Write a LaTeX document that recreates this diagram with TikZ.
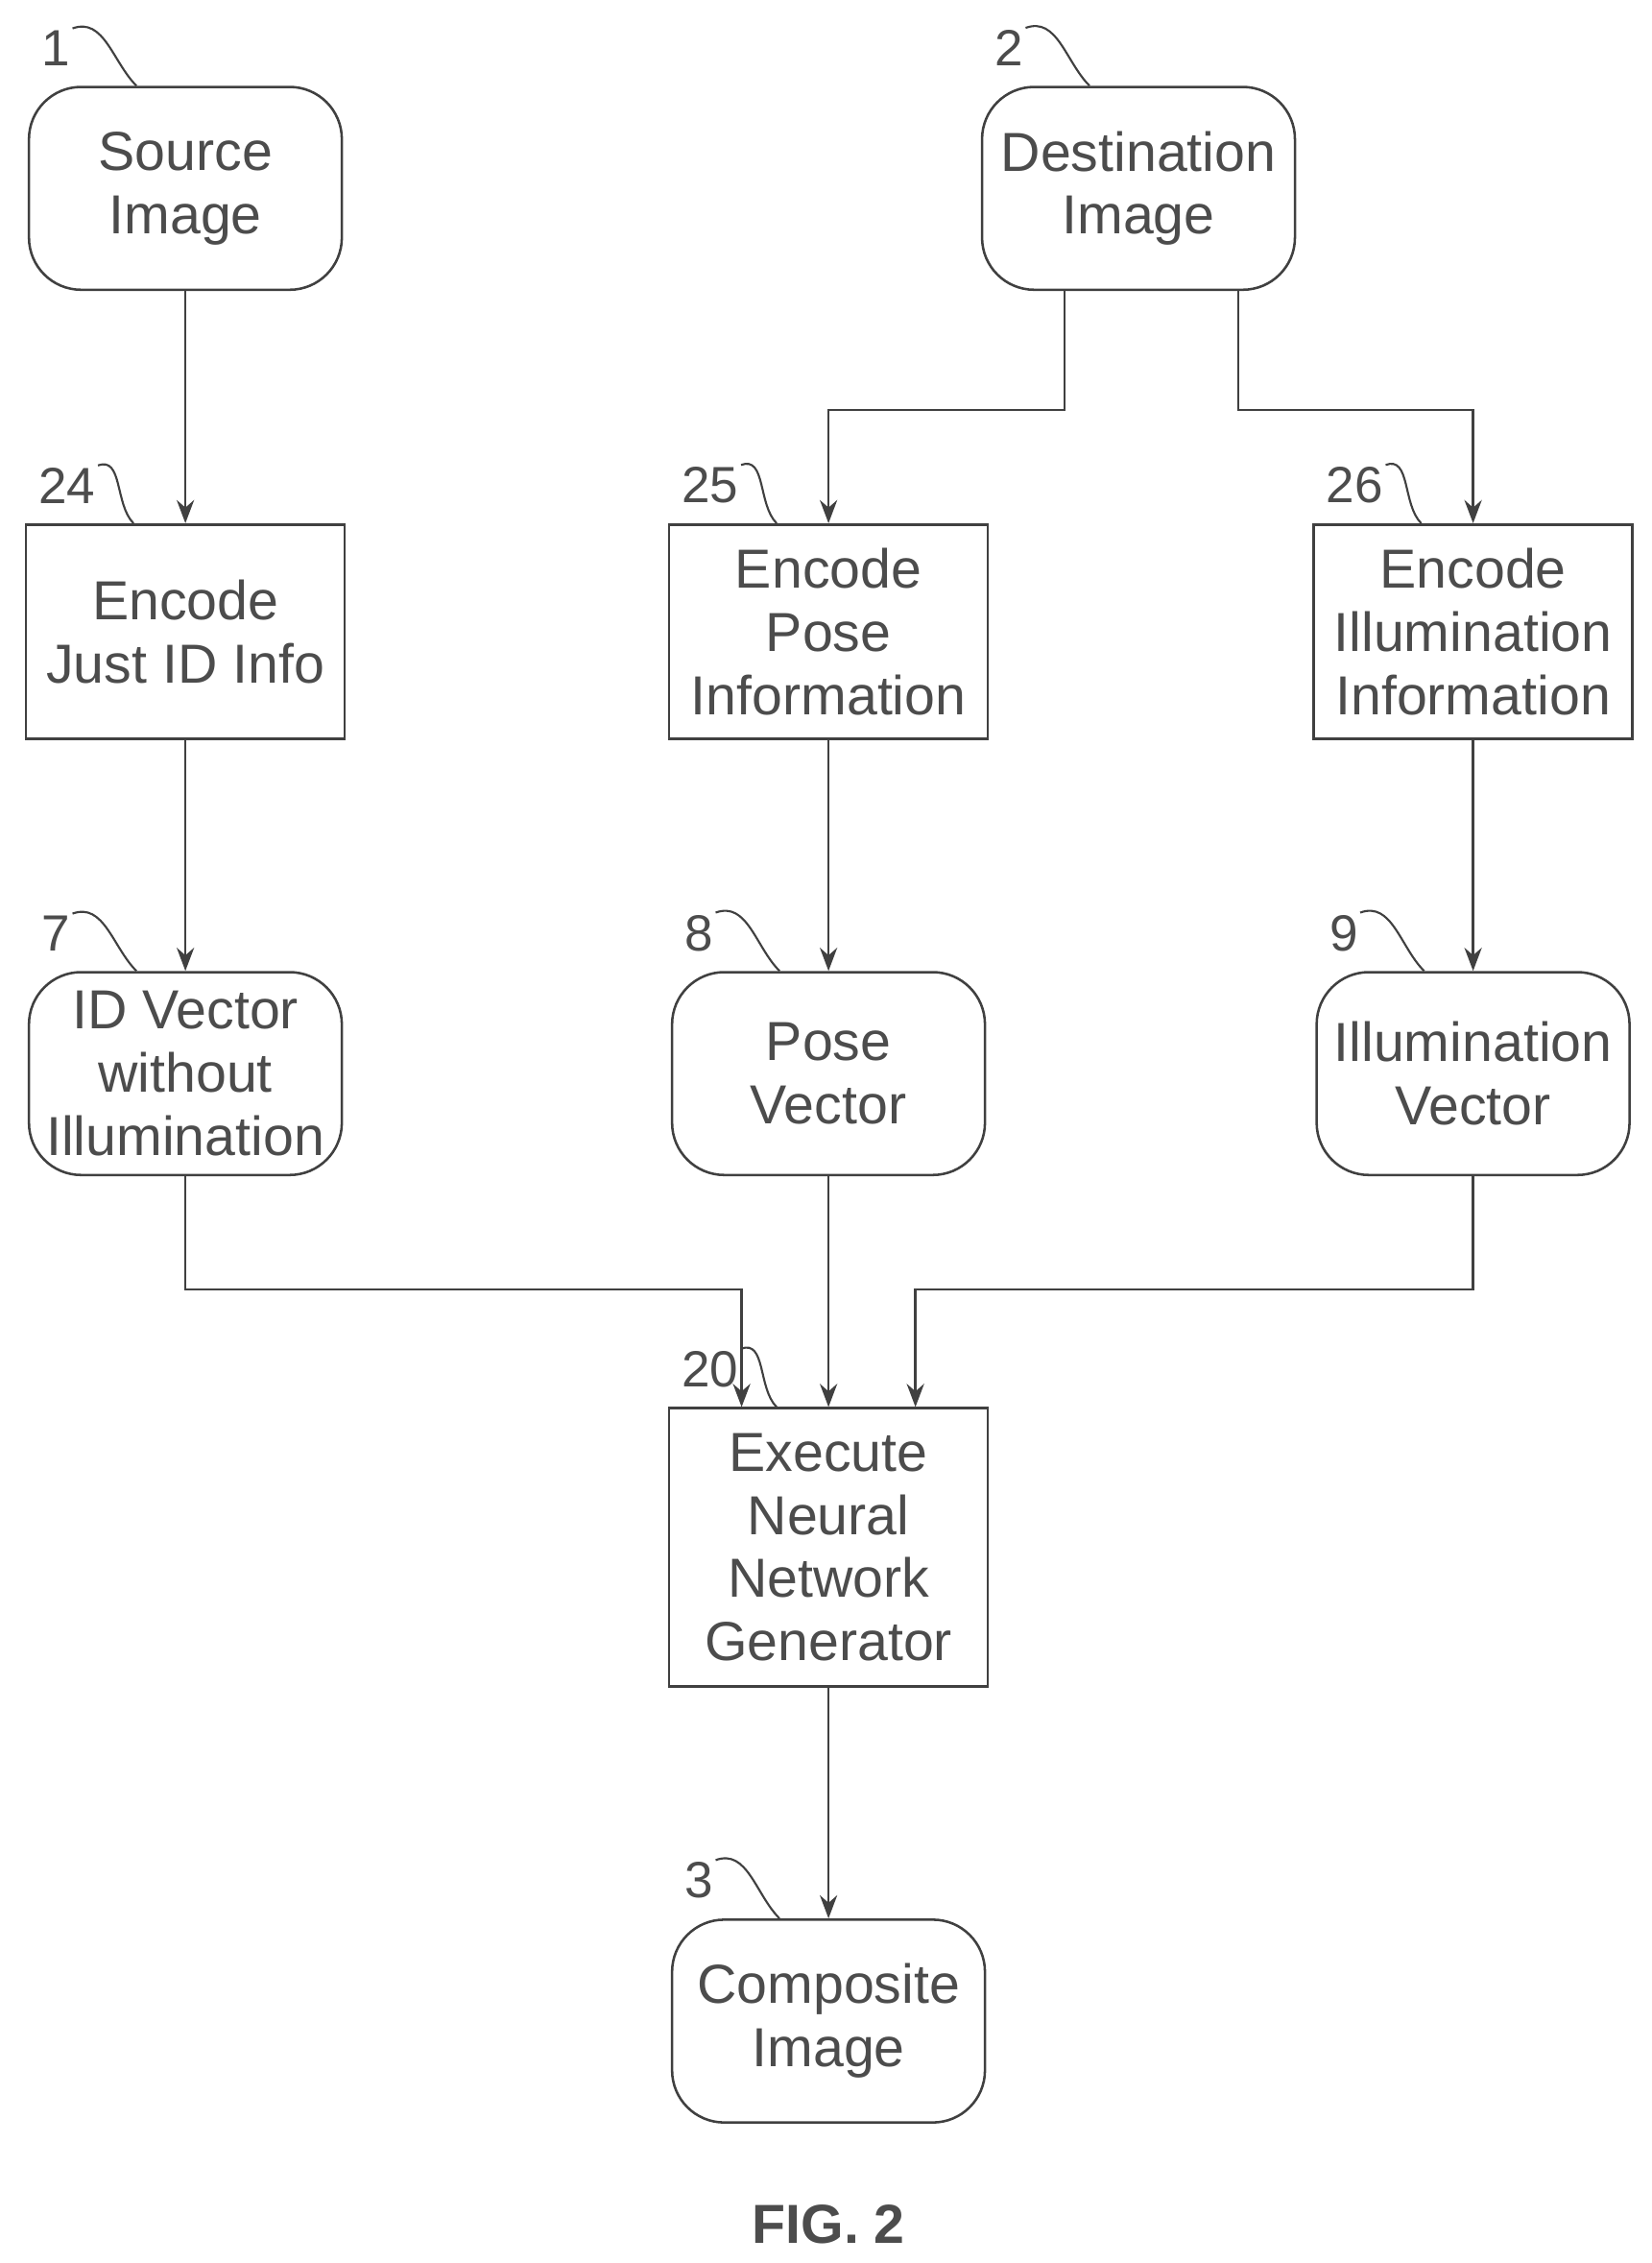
\documentclass[tikz,border=0pt]{standalone}
\usepackage{fontspec}
\setmainfont{Liberation Sans}
\usetikzlibrary{positioning,arrows.meta,calc}

\begin{document}
\begin{tikzpicture}[
			x=0.25mm, y=0.25mm,
			font=\fontsize{27}{31}\selectfont,
			>={Stealth[length=4mm,width=3mm]},
			% Define styles for the flowchart shapes
			term/.style={rectangle, draw=black!75, line width=1.2pt, rounded corners=9mm, align=center, minimum width=54mm, minimum height=35mm, text=black!70},
			process/.style={rectangle, draw=black!75, line width=1.2pt, align=center, minimum width=55mm, minimum height=37mm, text=black!70},
			refnum/.style={font=\fontsize{25}{25}\selectfont, text=black!70, anchor=south west, inner sep=1pt},
			squig/.style={draw=black!75, line width=1pt},
			arrow/.style={->, line width=1.2pt, draw=black!75}
			]
			\useasboundingbox (0,0) rectangle (1140,-1562);
			
			% --- Nodes ---
			\node (src) [term] at (128,-130) {Source\\Image};
			\node (dst) [term] at (786,-130) {Destination\\Image};
			
			\node (encid) [process] at (128,-436) {Encode\\Just ID Info};
			\node (encpose) [process] at (572,-436) {Encode\\Pose\\Information};
			\node (encillum) [process] at (1017,-436) {Encode\\Illumination\\Information};
			
			\node (idvec) [term] at (128,-741) {ID Vector\\without\\Illumination};
			\node (posevec) [term] at (572,-741) {Pose\\Vector};
			\node (illumvec) [term] at (1017,-741) {Illumination\\Vector};
			
			\node (gen) [process, minimum height=48mm] at (572,-1068) {Execute\\Neural\\Network\\Generator};
			
			\node (comp) [term] at (572,-1395) {Composite\\Image};
			
			\node (fig) [font=\bfseries\fontsize{27}{27}\selectfont, text=black!70] at (572,-1535) {FIG. 2};
			
			% --- Reference numerals ---
			\foreach \n/\t in {src/1, dst/2, encid/24, encpose/25, encillum/26, idvec/7, posevec/8, illumvec/9, gen/20, comp/3} {
				\node (ref-\n) [refnum] at ($(\n.north west)+(8,12)$) {\t};
				\draw[squig] (ref-\n.north east) to[out=20, in=135] ($(\n.north west)+(75,0)$);
			}
			
			% --- Arrows ---
			\draw[arrow] (src) -- (encid);
			\draw[arrow] ($(dst.south)+(-51,0)$) |- (572,-283) -- (encpose);
			\draw[arrow] ($(dst.south)+(69,0)$) |- (1017,-283) -- (encillum);
			
			\draw[arrow] (encid) -- (idvec);
			\draw[arrow] (encpose) -- (posevec);
			\draw[arrow] (encillum) -- (illumvec);
			
			% Merging into the generator
			\draw[arrow] (idvec) |- (512,-890) -- ($(gen.north)+(-60,0)$);
			\draw[arrow] (posevec) -- (gen);
			\draw[arrow] (illumvec) |- (632,-890) -- ($(gen.north)+(60,0)$);
			
			\draw[arrow] (gen) -- (comp);
			
		\end{tikzpicture}
\end{document}
